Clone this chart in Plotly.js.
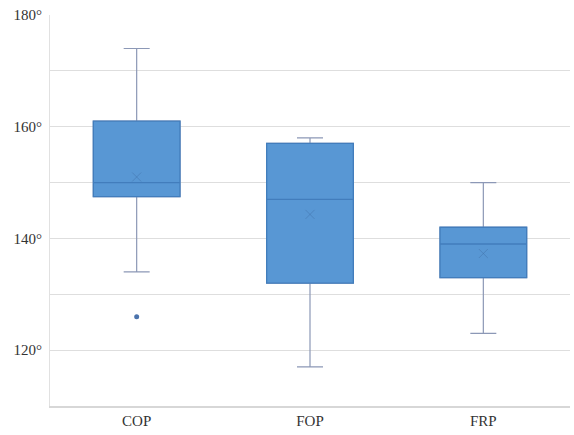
<!DOCTYPE html>
<html>
<head>
<meta charset="utf-8">
<script src="https://cdn.plot.ly/plotly-3.0.1.min.js"></script>
<style>html,body{margin:0;padding:0;background:#fff;}#chart{width:574px;height:435px;}</style>
</head>
<body>
<div id="chart"></div>
<script>
const categories = ['COP', 'FOP', 'FRP'];
const lowerWhisker = [134, 117, 123];
const q1Values = [147.5, 132, 133];
const medianValues = [150, 147, 139];
const q3Values = [161, 157, 142];
const upperWhisker = [174, 158, 150];
const meanValues = [151, 144.3, 137.3];
const outlierCats = ['COP'];
const outlierValues = [126];
const yTickVals = [120, 140, 160, 180];
const yTickText = ['120°', '140°', '160°', '180°'];

const boxFill = 'rgb(88,151,212)';
const traces = [
  {
    type: 'box', x: categories,
    q1: q1Values, median: medianValues, q3: q3Values,
    lowerfence: lowerWhisker, upperfence: upperWhisker,
    fillcolor: boxFill, line: {color: 'rgb(140,152,182)', width: 1.2},
    whiskerwidth: 0.3, boxpoints: false, hoverinfo: 'skip', showlegend: false
  },
  {
    type: 'box', x: categories,
    q1: q1Values, median: medianValues, q3: q3Values,
    lowerfence: q1Values, upperfence: q3Values,
    fillcolor: boxFill, line: {color: 'rgb(66,125,188)', width: 1.3},
    whiskerwidth: 0, boxpoints: false, hoverinfo: 'skip', showlegend: false
  },
  {
    type: 'scatter', mode: 'markers', x: categories, y: meanValues,
    marker: {symbol: 'x-thin-open', size: 9, color: 'rgba(60,105,160,0.4)', line: {width: 1, color: 'rgba(60,105,160,0.4)'}},
    showlegend: false, hoverinfo: 'skip'
  },
  {
    type: 'scatter', mode: 'markers', x: outlierCats, y: outlierValues,
    marker: {symbol: 'circle', size: 5, color: 'rgb(75,115,172)'},
    showlegend: false, hoverinfo: 'skip'
  }
];

const layout = {
  width: 574, height: 435,
  margin: {l: 50, r: 4, t: 15, b: 29},
  paper_bgcolor: '#fff', plot_bgcolor: '#fff',
  font: {family: 'Liberation Serif, Times New Roman, serif', size: 15, color: '#333'},
  boxgap: 0.5, boxgroupgap: 0, boxmode: 'overlay',
  xaxis: {
    type: 'category', showgrid: false, zeroline: false,
    showline: true, linecolor: 'rgb(215,215,215)', linewidth: 1.5,
    ticks: '', tickfont: {size: 15, color: '#333'}
  },
  yaxis: {
    range: [110, 180], tickmode: 'array', tickvals: yTickVals, ticktext: yTickText,
    showgrid: true, gridcolor: 'rgb(222,222,222)', gridwidth: 1,
    minor: {tickmode: 'linear', tick0: 110, dtick: 10, showgrid: true, gridcolor: 'rgb(222,222,222)', gridwidth: 1},
    zeroline: false, showline: true, linecolor: 'rgb(225,225,225)', linewidth: 1,
    ticks: '', ticklabelstandoff: 4, tickfont: {size: 15, color: '#333'}
  }
};

Plotly.newPlot('chart', traces, layout, {displayModeBar: false, staticPlot: true});
</script>
</body>
</html>
